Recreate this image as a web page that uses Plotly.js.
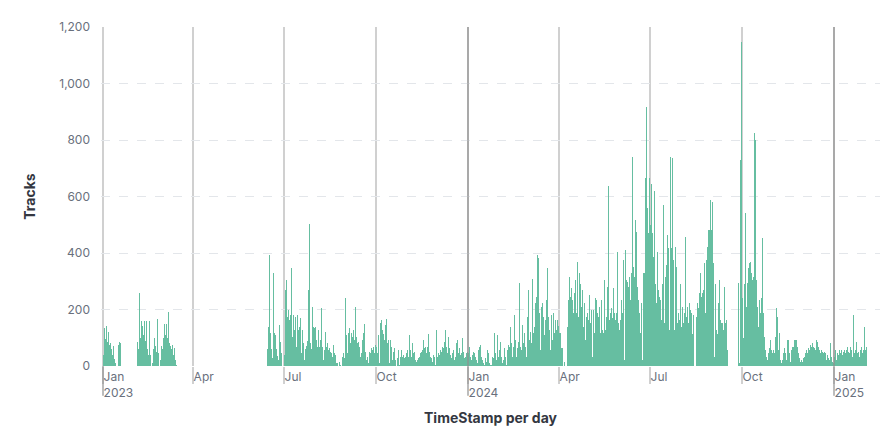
<!DOCTYPE html>
<html>
<head>
<meta charset="utf-8">
<script src="https://cdn.plot.ly/plotly-3.0.1.min.js"></script>
<style>html,body{margin:0;padding:0;background:#fff;}#chart{width:891px;height:438px;}</style>
</head>
<body>
<div id="chart"></div>
<script>
// Daily "Tracks" counts, one array per month (or partial month).
const jan23 = [40,135,95,140,85,120,75,80,60,40,70,25,10,0,0,75,85,80,0,0,0,0,0,0,0,0,0,0,0,0,0];
const feb23 = [0,0,0,85,60,258,100,160,140,110,160,90,160,60,40,160,40,0,10,60,100,70,50,165,45,0,20,70];
const mar23 = [60,100,150,110,150,100,190,80,70,60,75,40,65,20,5];
const jun23 = [60,139,393,116,60,30,329,116,110,60,35,20,145,86,45,0,0];
const jul23 = [40,269,304,175,198,163,180,346,104,180,127,175,68,180,127,139,169,45,127,80,21,60,70,90,269,503,80,60,210,139,133];
const aug23 = [139,92,68,127,68,92,205,68,21,57,121,68,80,57,63,51,45,33,74,45,39,9,9,0,15,5,0,33,45,27,240];
const sep23 = [110,45,116,133,80,116,104,127,92,208,104,80,86,68,33,45,92,116,150,51,21,33,9,51,45,63,57,68,45,74];
const oct23 = [68,45,110,9,151,163,127,115,92,145,165,80,92,9,92,68,21,50,62,21,0,27,56,3,33,56,33,39,27,33,45];
const nov23 = [56,33,110,56,33,80,45,50,21,15,21,27,33,45,50,56,92,62,68,45,68,115,50,33,27,15,39,33,3,127];
const dec23 = [33,45,39,56,50,68,62,86,127,68,45,104,62,39,27,45,56,21,33,80,92,45,62,39,45,98,50,27,33,45,50];
const jan24 = [45,68,33,21,39,51,45,33,21,9,57,68,74,33,21,9,3,27,15,57,45,9,3,3,33,27,116,45,21,110,33];
const feb24 = [57,86,33,9,21,62,33,3,57,74,68,139,80,33,68,180,92,33,62,86,295,68,57,145,80,116,68,33,175];
const mar24 = [269,92,122,80,307,116,139,222,245,393,381,186,57,210,222,175,110,163,234,346,175,127,57,180,92,186,116,163,127,163,140];
const apr24 = [116,116,62,62,0,15,0,0,139,234,316,245,275,234,186,257,304,186,369,175,328,292,210,269,139,222,92,175,186,163];
const may24 = [251,151,198,33,198,116,240,234,186,175,210,116,234,127,116,304,127,175,281,637,163,186,204,169,275,186,163,186,405,151,127];
const jun24 = [163,234,186,375,21,411,304,298,281,316,234,328,741,352,316,517,475,281,234,186,116,222,21,328,328,664,918,560,470,665];
const jul24 = [500,645,470,387,621,292,222,405,269,245,233,163,292,570,151,316,358,464,417,127,741,417,735,375,127,422,352,151,186,163,292];
const aug24 = [139,210,151,186,458,175,210,151,222,198,186,115,180,0,0,175,222,204,257,328,245,257,269,363,186,375,422,481,481,588,481];
const sep24 = [582,363,33,292,127,115,222,304,163,151,151,127,281,151,163,56,0,0,0,0,0,0,0,0,0,0,294,10,729,1148];
const oct24 = [240,100,290,540,210,293,346,363,369,330,304,316,824,800,304,210,139,234,186,239,452,186,104,57,33,21,45,62,92,57,45];
const nov24 = [57,45,104,204,175,57,116,21,9,21,45,62,45,21,92,92,45,15,57,68,68,92,92,92,68,45,27,15,21,15];
const dec24 = [27,33,45,57,45,62,57,74,68,80,68,62,57,92,86,68,57,45,57,51,45,51,45,21,39,27,21,80,33,15,9];
const jan25 = [33,57,21,45,39,57,45,57,39,51,57,45,57,68,51,45,68,57,33,180,45,57,86,45,51,33,57,68,45,57,139];
const feb25 = [57,68];

const segmentStarts = ['2023-01-01','2023-02-01','2023-03-01','2023-06-14','2023-07-01','2023-08-01','2023-09-01',
  '2023-10-01','2023-11-01','2023-12-01','2024-01-01','2024-02-01','2024-03-01','2024-04-01','2024-05-01',
  '2024-06-01','2024-07-01','2024-08-01','2024-09-01','2024-10-01','2024-11-01','2024-12-01','2025-01-01','2025-02-01'];
const segmentValues = [jan23,feb23,mar23,jun23,jul23,aug23,sep23,oct23,nov23,dec23,jan24,feb24,mar24,apr24,may24,
  jun24,jul24,aug24,sep24,oct24,nov24,dec24,jan25,feb25];

const tickDates = ['2023-01-01','2023-04-01','2023-07-01','2023-10-01','2024-01-01','2024-04-01','2024-07-01','2024-10-01','2025-01-01'];
const tickLabels = ['Jan<br>2023','Apr','Jul','Oct','Jan<br>2024','Apr','Jul','Oct','Jan<br>2025'];
const yearTicks = ['2023-01-01','2024-01-01','2025-01-01'];
const yTicks = [0,200,400,600,800,1000,1200];

const xs = [], ys = [];
segmentStarts.forEach((s, k) => {
  const base = new Date(s + 'T00:00:00Z');
  segmentValues[k].forEach((v, i) => {
    const d = new Date(base.getTime());
    d.setUTCDate(d.getUTCDate() + i);
    xs.push(d.toISOString().slice(0, 10));
    ys.push(v);
  });
});

const DAY = 86400000;
const trace = {
  type: 'bar', x: xs, y: ys,
  width: DAY, offset: 0,
  marker: {color: '#66bea1', line: {width: 0}},
  hoverinfo: 'x+y'
};

const shapes = [];
yearTicks.forEach((d, k) => {
  shapes.push({type: 'line', xref: 'x', yref: 'paper', x0: d, x1: d, y0: -0.088, y1: k === 0 ? 0 : 1,
    line: {color: '#8f8f8f', width: 1.2}, layer: 'above'});
});

const layout = {
  width: 891, height: 438,
  margin: {l: 101, r: 11, t: 27, b: 72},
  paper_bgcolor: '#ffffff', plot_bgcolor: '#ffffff',
  font: {family: 'Inter, "Open Sans", sans-serif', color: '#69707d', size: 12},
  bargap: 0, showlegend: false,
  xaxis: {
    type: 'date', range: ['2022-12-30', '2025-02-16'],
    tickmode: 'array', tickvals: tickDates, ticktext: tickLabels,
    ticklabelposition: 'outside right',
    showgrid: true, gridcolor: '#d0d0d0', gridwidth: 1.2,
    ticks: 'outside', ticklen: 17, tickcolor: '#d0d0d0', tickwidth: 1.2,
    zeroline: false, showline: false,
    tickfont: {family: 'Inter, sans-serif', size: 12, color: '#69707d'},
    title: {text: 'TimeStamp per day', standoff: 14,
      font: {family: 'Inter, sans-serif', size: 14, color: '#343741', weight: 700}},
    automargin: false
  },
  yaxis: {
    range: [0, 1200], tickmode: 'array', tickvals: yTicks, tickformat: ',',
    showgrid: true, gridcolor: '#e3e6ea', griddash: 'dash', gridwidth: 1,
    zeroline: false, showline: false, ticks: '',
    ticklabelstandoff: 10,
    tickfont: {family: 'Inter, sans-serif', size: 12, color: '#69707d'},
    title: {text: 'Tracks', standoff: 20,
      font: {family: 'Inter, sans-serif', size: 14, color: '#343741', weight: 700}},
    automargin: false
  },
  shapes: shapes
};

Plotly.newPlot('chart', [trace], layout, {displayModeBar: false, staticPlot: true});
</script>
</body>
</html>
